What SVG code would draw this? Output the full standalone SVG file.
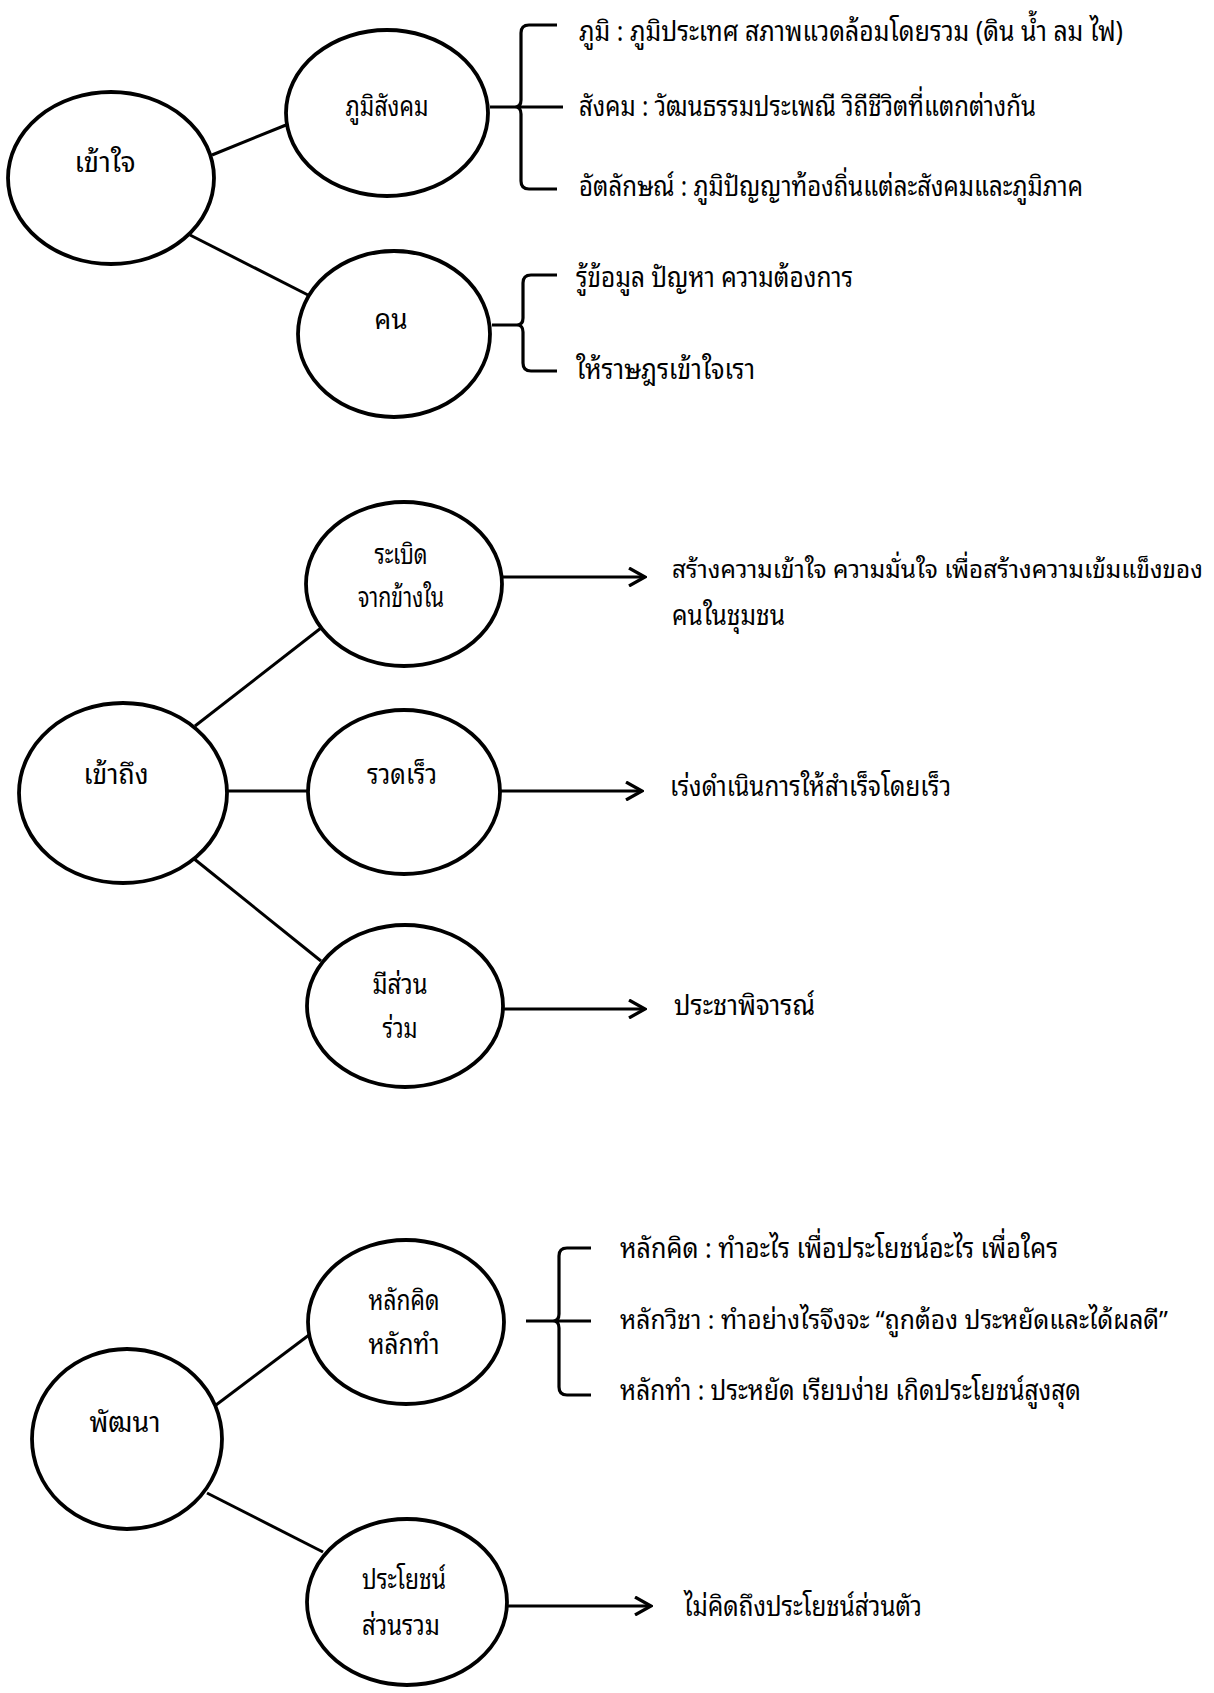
<svg xmlns="http://www.w3.org/2000/svg" width="1214" height="1693" viewBox="0 0 1214 1693">
<style>
.node{fill:#fff;stroke:#000;stroke-width:3.8}
.ln{fill:none;stroke:#000;stroke-width:3}
.br{fill:none;stroke:#000;stroke-width:3.2;stroke-linejoin:round}
.t{font-family:"Noto Sans Thai Looped","Noto Sans Thai","Noto Sans","DejaVu Sans",sans-serif;font-size:28px;fill:#000}
.c{text-anchor:middle}
.s25{font-size:25px}
.s26{font-size:26px}
</style>
<defs>
<marker id="arr" viewBox="0 0 20 20" refX="18" refY="10" markerWidth="20" markerHeight="20" markerUnits="userSpaceOnUse" orient="auto">
<path d="M2,1 L18,10 L2,19" fill="none" stroke="#000" stroke-width="3.2"/>
</marker>
</defs>
<rect width="1214" height="1693" fill="#fff"/>
<g id="connectors">
<line class="ln" x1="212" y1="155" x2="286" y2="125"/>
<line class="ln" x1="190" y1="235" x2="308" y2="295"/>
<path class="br" d="M490,107 H563 M557,25 H529 Q521,25 521,33 V100 Q521,107 515,107 Q521,107 521,114 V181 Q521,189 529,189 H557"/>
<path class="br" d="M492,325 H517 M557,275 H531 Q523,275 523,283 V318 Q523,325 517,325 Q523,325 523,332 V363 Q523,371 531,371 H557"/>
<line class="ln" x1="195" y1="726" x2="321" y2="628"/>
<line class="ln" x1="228" y1="791" x2="309" y2="791"/>
<line class="ln" x1="193" y1="858" x2="321" y2="961"/>
<line class="ln" x1="502" y1="577" x2="645" y2="577" marker-end="url(#arr)"/>
<line class="ln" x1="499" y1="791" x2="642" y2="791" marker-end="url(#arr)"/>
<line class="ln" x1="504" y1="1009" x2="645" y2="1009" marker-end="url(#arr)"/>
<line class="ln" x1="216" y1="1405" x2="309" y2="1335"/>
<line class="ln" x1="207" y1="1493" x2="323" y2="1552"/>
<path class="br" d="M526,1321 H591 M591,1248 H567 Q559,1248 559,1256 V1314 Q559,1321 553,1321 Q559,1321 559,1328 V1387 Q559,1395 567,1395 H591"/>
<line class="ln" x1="507" y1="1606" x2="651" y2="1606" marker-end="url(#arr)"/>
</g>
<g id="n-khaochai"><ellipse class="node" cx="111" cy="178" rx="103" ry="86"/><text class="t c" x="105" y="172" textLength="61" lengthAdjust="spacingAndGlyphs">เข้าใจ</text></g>
<g id="n-phumisangkhom"><ellipse class="node" cx="387" cy="113" rx="101" ry="83"/><text class="t c" x="387" y="116" textLength="83" lengthAdjust="spacingAndGlyphs">ภูมิสังคม</text></g>
<g id="n-khon"><ellipse class="node" cx="394" cy="334" rx="96" ry="83"/><text class="t c" x="391" y="329" textLength="33" lengthAdjust="spacingAndGlyphs">คน</text></g>
<g id="t-s1">
<text class="t" x="579" y="41" textLength="544" lengthAdjust="spacingAndGlyphs">ภูมิ : ภูมิประเทศ สภาพแวดล้อมโดยรวม (ดิน น้ำ ลม ไฟ)</text>
<text class="t" x="579" y="116" textLength="457" lengthAdjust="spacingAndGlyphs">สังคม : วัฒนธรรมประเพณี วิถีชีวิตที่แตกต่างกัน</text>
<text class="t" x="579" y="196" textLength="504" lengthAdjust="spacingAndGlyphs">อัตลักษณ์ : ภูมิปัญญาท้องถิ่นแต่ละสังคมและภูมิภาค</text>
<text class="t" x="576" y="287" textLength="277" lengthAdjust="spacingAndGlyphs">รู้ข้อมูล ปัญหา ความต้องการ</text>
<text class="t" x="576" y="379" textLength="179" lengthAdjust="spacingAndGlyphs">ให้ราษฎรเข้าใจเรา</text>
</g>
<g id="n-khaothueng"><ellipse class="node" cx="123" cy="793" rx="104" ry="90"/><text class="t c" x="116" y="784" textLength="65" lengthAdjust="spacingAndGlyphs">เข้าถึง</text></g>
<g id="n-rabert"><ellipse class="node" cx="404" cy="584" rx="98" ry="82"/><text class="t c" x="401" y="564" textLength="53" lengthAdjust="spacingAndGlyphs">ระเบิด</text><text class="t c" x="401" y="607" textLength="86" lengthAdjust="spacingAndGlyphs">จากข้างใน</text></g>
<g id="n-ruatreo"><ellipse class="node" cx="404" cy="792" rx="96" ry="82"/><text class="t c" x="402" y="784" textLength="70" lengthAdjust="spacingAndGlyphs">รวดเร็ว</text></g>
<g id="n-meesuanruam"><ellipse class="node" cx="405" cy="1006" rx="98" ry="81"/><text class="t c" x="400" y="994" textLength="55" lengthAdjust="spacingAndGlyphs">มีส่วน</text><text class="t c" x="400" y="1038" textLength="35" lengthAdjust="spacingAndGlyphs">ร่วม</text></g>
<g id="t-s2">
<text class="t s25" x="672" y="578" textLength="531" lengthAdjust="spacingAndGlyphs">สร้างความเข้าใจ ความมั่นใจ เพื่อสร้างความเข้มแข็งของ</text>
<text class="t" x="672" y="625" textLength="113" lengthAdjust="spacingAndGlyphs">คนในชุมชน</text>
<text class="t" x="670" y="796" textLength="281" lengthAdjust="spacingAndGlyphs">เร่งดำเนินการให้สำเร็จโดยเร็ว</text>
<text class="t" x="674" y="1015" textLength="141" lengthAdjust="spacingAndGlyphs">ประชาพิจารณ์</text>
</g>
<g id="n-phatthana"><ellipse class="node" cx="127" cy="1439" rx="95" ry="90"/><text class="t c" x="125" y="1432" textLength="71" lengthAdjust="spacingAndGlyphs">พัฒนา</text></g>
<g id="n-lakkhit"><ellipse class="node" cx="406" cy="1322" rx="98" ry="82"/><text class="t c" x="404" y="1310" textLength="71" lengthAdjust="spacingAndGlyphs">หลักคิด</text><text class="t c" x="404" y="1354" textLength="71" lengthAdjust="spacingAndGlyphs">หลักทำ</text></g>
<g id="n-prayot"><ellipse class="node" cx="407" cy="1602" rx="100" ry="83"/><text class="t c" x="404" y="1589" textLength="84" lengthAdjust="spacingAndGlyphs">ประโยชน์</text><text class="t c" x="401" y="1635" textLength="78" lengthAdjust="spacingAndGlyphs">ส่วนรวม</text></g>
<g id="t-s3">
<text class="t" x="620" y="1258" textLength="438" lengthAdjust="spacingAndGlyphs">หลักคิด : ทำอะไร เพื่อประโยชน์อะไร เพื่อใคร</text>
<text class="t s26" x="620" y="1329" textLength="548" lengthAdjust="spacingAndGlyphs">หลักวิชา : ทำอย่างไรจึงจะ “ถูกต้อง ประหยัดและได้ผลดี”</text>
<text class="t" x="620" y="1400" textLength="461" lengthAdjust="spacingAndGlyphs">หลักทำ : ประหยัด เรียบง่าย เกิดประโยชน์สูงสุด</text>
<text class="t" x="684" y="1616" textLength="238" lengthAdjust="spacingAndGlyphs">ไม่คิดถึงประโยชน์ส่วนตัว</text>
</g>
</svg>
